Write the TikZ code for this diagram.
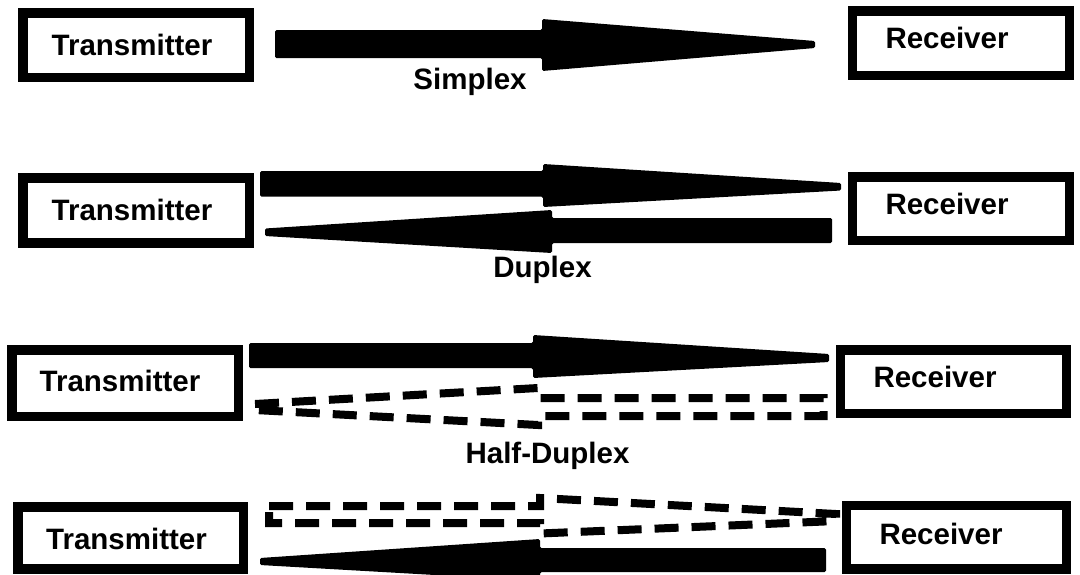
\documentclass[tikz,border=0pt]{standalone}
\usepackage{fontspec}
\setmainfont{Liberation Sans}
\begin{document}
\begin{tikzpicture}[x=1pt,y=-1pt,
  box/.style={draw, line width=9.5pt, inner sep=0pt, rectangle},
  lbl/.style={font=\fontsize{29.5}{30}\selectfont\bfseries, inner sep=0pt, anchor=base},
  solidarrow/.style={fill=black, rounded corners=1.5pt},
  dasharrow/.style={draw, line width=8pt, dash pattern=on 24pt off 13pt, line join=miter}]
\useasboundingbox (0,0) rectangle (1080,574);
% boxes
\node[box, minimum width=226.5pt, minimum height=64.5pt] (T1) at (136,45) {};
\node[box, minimum width=217pt, minimum height=64.5pt] (R1) at (960.75,43) {};
\node[box, minimum width=226.5pt, minimum height=65pt] (T2) at (136,210.25) {};
\node[box, minimum width=217pt, minimum height=63.5pt] (R2) at (960.75,208.5) {};
\node[box, minimum width=226.5pt, minimum height=66.5pt] (T3) at (125,383) {};
\node[box, minimum width=226pt, minimum height=63.5pt] (R3) at (953.25,381.5) {};
\node[box, minimum width=225.5pt, minimum height=62pt] (T4) at (130.5,538) {};
\node[box, minimum width=220pt, minimum height=63.5pt] (R4) at (956.3,537) {};
% texts
\node[lbl] (T1t) at (132,55) {Transmitter};
\node[lbl] (R1t) at (947,48) {Receiver};
\node[lbl] (L1) at (470,89) {Simplex};
\node[lbl] (T2t) at (132,220.5) {Transmitter};
\node[lbl] (R2t) at (947,214) {Receiver};
\node[lbl] (L2) at (542.5,277) {Duplex};
\node[lbl] (T3t) at (120,391) {Transmitter};
\node[lbl] (R3t) at (935,387) {Receiver};
\node[lbl] (L3) at (547.5,463) {Half-Duplex};
\node[lbl] (T4t) at (126.5,549) {Transmitter};
\node[lbl] (R4t) at (941,544) {Receiver};
% row 1 simplex arrow
\fill[solidarrow] (275,30) -- (542,30) -- (542,19) -- (815,41) -- (815,48) -- (542,71) -- (542,58) -- (275,58) -- cycle;
% row 2 duplex arrows
\fill[solidarrow] (260,171) -- (543,171) -- (543,164) -- (841,183) -- (841,190.5) -- (543,207) -- (543,196.5) -- (260,196.5) -- cycle;
\fill[solidarrow] (832,218) -- (552,218) -- (552,210) -- (265,228.5) -- (265,236) -- (552,253) -- (552,243) -- (832,243) -- cycle;
% row 3 half duplex
\fill[solidarrow] (249,343) -- (533,343) -- (533,335) -- (829,354) -- (829,362) -- (533,378) -- (533,368) -- (249,368) -- cycle;
\draw[dasharrow] (255,404) -- (538,388) -- (538,398) -- (823.5,398) -- (823.5,416) -- (538,416) -- (538,425) -- (255,410) -- cycle;
% row 4
\draw[dasharrow] (269,506) -- (540,506) -- (540,498) -- (836,514) -- (836,521) -- (540,533.5) -- (540,523) -- (269,523) -- cycle;
\fill[solidarrow] (826,548) -- (540,548) -- (540,539) -- (260,558) -- (260,565) -- (540,581) -- (540,572) -- (826,572) -- cycle;
\end{tikzpicture}
\end{document}
